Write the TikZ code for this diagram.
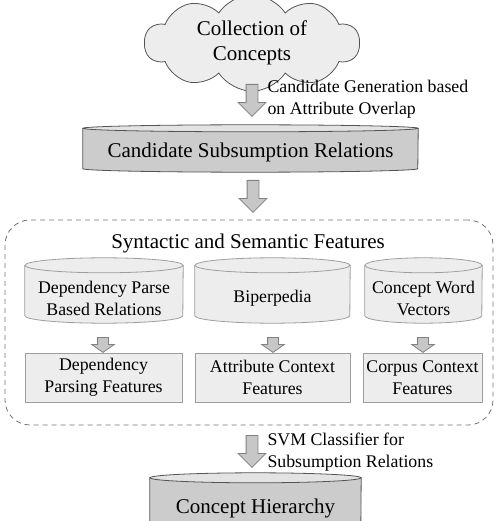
\documentclass[tikz,border=0pt]{standalone}
\usepackage{fontspec}
\setmainfont{Liberation Serif}
\usetikzlibrary{shapes.symbols}
\usetikzlibrary{shapes.arrows}
\usetikzlibrary{backgrounds}
\usetikzlibrary{calc}
\usetikzlibrary{positioning}
\definecolor{palefill}{gray}{0.93}
\definecolor{midfill}{gray}{0.80}
\definecolor{lidfill}{gray}{0.89}
\definecolor{softedge}{gray}{0.62}
\definecolor{darkedge}{gray}{0.33}
\definecolor{arrowfill}{gray}{0.78}
\definecolor{arrowedge}{gray}{0.50}
\definecolor{dashgray}{gray}{0.45}
\newcommand{\titlesize}{\fontsize{21}{25}\selectfont}
\newcommand{\labelsize}{\fontsize{17.8}{22}\selectfont}

\begin{document}
\begin{tikzpicture}[x=1pt,y=-1pt,
    cloudbox/.style={cloud, cloud puffs=10, cloud puff arc=115, cloud ignores aspect,
        draw=darkedge, fill=palefill, thick, minimum width=215pt, minimum height=52pt,
        align=center, font=\titlesize},
    drum/.style={rectangle, inner sep=0pt, align=center, font=\labelsize},
    paleside/.style={draw=softedge, fill=palefill, thick},
    darkside/.style={draw=darkedge, fill=midfill, thick},
    darklid/.style={draw=darkedge, fill=lidfill, thick},
    featbox/.style={rectangle, draw=softedge, fill=palefill, thick, minimum height=49pt,
        align=center, font=\labelsize},
    bigarrow/.style={single arrow, rotate=-90, anchor=tail, draw=arrowedge, fill=arrowfill, thick,
        minimum height=32pt, minimum width=27pt, inner xsep=0pt, inner ysep=5.5pt,
        single arrow head extend=8pt},
    smallarrow/.style={bigarrow, minimum height=15pt, minimum width=22pt, inner ysep=5pt,
        single arrow head extend=6pt, single arrow tip angle=110},
    note/.style={align=left, font=\labelsize, anchor=west}]

    \useasboundingbox (0,0) rectangle (496,521);

    % concepts and candidates
    \node[cloudbox] (concepts) at (252,43) {Collection of\\Concepts};
    \node[drum, font=\titlesize, minimum width=335pt, minimum height=40pt] (cand) at (250.5,152)
        {Candidate Subsumption Relations};
    \node[bigarrow] (genarrow) at (252,84) {};
    \node[note] (gennote) at (264,99) {Candidate Generation based\\on Attribute Overlap};

    % feature group
    \node[draw=dashgray, thick, dash pattern=on 5pt off 4pt, rounded corners=25pt,
        minimum width=488pt, minimum height=205pt] (group) at (249,322.5) {};
    \node[font=\titlesize] (grouptitle) at (248,243) {Syntactic and Semantic Features};
    \node[bigarrow] (grouparrow) at (253,180) {};

    \node[drum, minimum width=158pt, minimum height=50pt] (deprel) at (104,298)
        {Dependency Parse\\Based Relations};
    \node[drum, minimum width=155pt, minimum height=50pt] (biper) at (272.5,298) {Biperpedia};
    \node[drum, minimum width=117pt, minimum height=50pt] (wordvec) at (423.5,298)
        {Concept Word\\Vectors};

    \node[featbox, minimum width=157pt] (depfeat) at (103.5,377.5) {Dependency\\Parsing Features};
    \node[featbox, minimum width=155pt] (attfeat) at (272.5,377.5) {Attribute Context\\Features};
    \node[featbox, minimum width=115pt] (corpfeat) at (422.5,377.5) {Corpus Context\\Features};

    \foreach \src/\ax in {deprel/103, biper/273, wordvec/423}
        \node[smallarrow] (\src-arrow) at (\ax,337) {};

    % classifier and hierarchy
    \node[drum, font=\titlesize, minimum width=211pt, minimum height=50pt] (hier) at (255.5,508)
        {Concept Hierarchy};
    \node[bigarrow] (svmarrow) at (252,435) {};
    \node[note] (svmnote) at (264,452) {SVM Classifier for\\Subsumption Relations};

    % drum bodies and lids behind the texts
    \begin{scope}[on background layer]
        \foreach \d/\rx/\ry in {deprel/79/7.5, biper/77.5/7.5, wordvec/58.5/7.5}{
            \filldraw[paleside] ($(\d.north west)+(0,-\ry)$) -- ($(\d.south west)+(0,-\ry)$)
                arc[start angle=180, end angle=0, x radius=\rx, y radius=\ry]
                -- ($(\d.north east)+(0,-\ry)$) -- cycle;
            \filldraw[paleside] ($(\d.north)+(0,-\ry)$) ellipse [x radius=\rx, y radius=\ry];
        }
        \foreach \d/\rx/\ry in {cand/167.5/3.5, hier/105.5/5}{
            \filldraw[darkside] ($(\d.north west)+(0,-\ry)$) -- ($(\d.south west)+(0,-\ry)$)
                arc[start angle=180, end angle=0, x radius=\rx, y radius=\ry]
                -- ($(\d.north east)+(0,-\ry)$) -- cycle;
            \filldraw[darklid] ($(\d.north)+(0,-\ry)$) ellipse [x radius=\rx, y radius=\ry];
        }
    \end{scope}

\end{tikzpicture}
\end{document}
